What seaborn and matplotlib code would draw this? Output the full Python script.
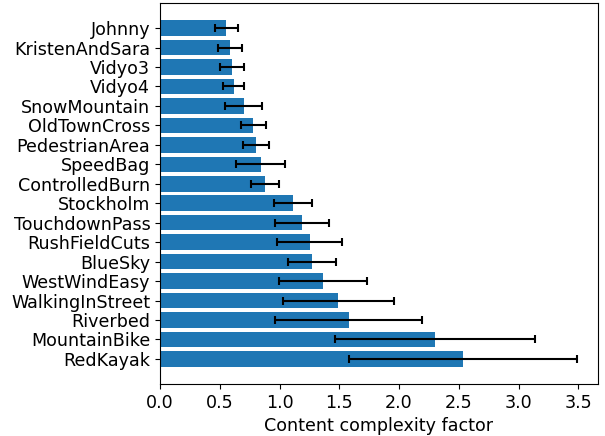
import numpy as np
import pandas as pd
import matplotlib
matplotlib.use("Agg")
import matplotlib.pyplot as plt
import seaborn as sns

# content names, top to bottom
sequences = ["Johnny", "KristenAndSara", "Vidyo3", "Vidyo4", "SnowMountain",
             "OldTownCross", "PedestrianArea", "SpeedBag", "ControlledBurn",
             "Stockholm", "TouchdownPass", "RushFieldCuts", "BlueSky",
             "WestWindEasy", "WalkingInStreet", "Riverbed", "MountainBike",
             "RedKayak"]

# mean complexity factor per sequence
factor = [0.555, 0.583, 0.602, 0.616, 0.700, 0.781, 0.800, 0.842, 0.876,
          1.115, 1.188, 1.252, 1.272, 1.361, 1.492, 1.578, 2.303, 2.535]

# error (+/-) per sequence
factor_err = [0.095, 0.100, 0.100, 0.088, 0.153, 0.103, 0.108, 0.205, 0.117,
              0.160, 0.223, 0.272, 0.203, 0.368, 0.465, 0.612, 0.836, 0.954]

df = pd.DataFrame({"sequence": sequences, "factor": factor, "err": factor_err})

fig, ax = plt.subplots(figsize=(6.05, 4.36), dpi=100)
fig.subplots_adjust(left=160 / 605, right=598 / 605, top=1 - 3 / 436, bottom=1 - 384 / 436)

sns.barplot(data=df, x="factor", y="sequence", orient="h", color="#1f77b4",
            saturation=1, width=0.8, errorbar=None, ax=ax)
ax.errorbar(df["factor"], np.arange(len(df)), xerr=df["err"], fmt="none",
            ecolor="black", elinewidth=1.5, capsize=3, capthick=1.5)

n = len(df)
ax.set_ylim(n - 1 + 0.4 + 0.05 * (n - 0.2), -0.4 - 0.05 * (n - 0.2))
ax.set_xlim(0, 3.664)
ax.set_xticks(np.arange(0, 3.51, 0.5))
ax.set_xlabel("Content complexity factor", fontsize=12.6)
ax.set_ylabel("")
ax.tick_params(labelsize=12.6)

fig.savefig("out.png", dpi=100)
